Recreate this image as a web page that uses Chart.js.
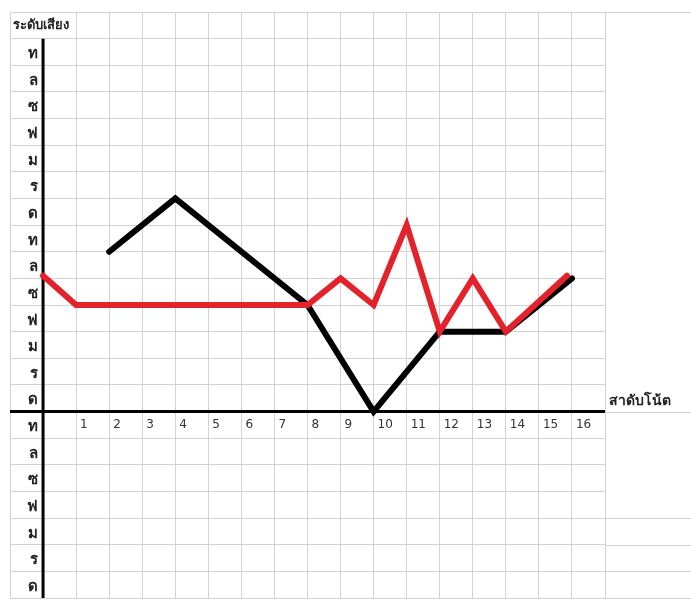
<!DOCTYPE html>
<html>
<head>
<meta charset="utf-8">
<script src="https://cdn.jsdelivr.net/npm/chart.js@4/dist/chart.umd.min.js"></script>
<style>
  html, body { margin: 0; background: #fff; }
  #wrap { width: 691px; height: 616px; }
</style>
</head>
<body>
<div id="wrap"><canvas id="myChart"></canvas></div>
<script>
// note names, one per grid row from y = -7 up to y = 13
const yTickLabels = ['ด','ร','ม','ฟ','ซ','ล','ท',
                     'ด','ร','ม','ฟ','ซ','ล','ท',
                     'ด','ร','ม','ฟ','ซ','ล','ท'];
const xTickLabels = ['1','2','3','4','5','6','7','8','9','10','11','12','13','14','15','16'];

// black line (vertices only)
const blackX = [2, 4, 8, 10, 12, 14, 16];
const blackY = [6, 8, 4, 0, 3, 3, 5];
// red line
const redX = [0, 1, 8, 9, 10, 11, 12, 13, 14, 15.85];
const redY = [5.1, 4, 4, 5, 4, 7, 3, 5, 3, 5.1];

const yTitle = 'ระดับเสียง';
const xTitle = 'สาดับโน้ต';

const FONT = "Tahoma, 'DejaVu Sans', 'Noto Sans', sans-serif";
const GRID = '#d3d3d3';

const toPoints = (xs, ys) => xs.map((x, i) => ({ x: x, y: ys[i] }));

// axis line, axis titles and the spreadsheet lines that run past the chart area
const sheetPlugin = {
  id: 'sheet',
  beforeDatasetsDraw(chart) {
    const { ctx, scales: { x, y } } = chart;
    ctx.save();
    ctx.strokeStyle = '#000';
    ctx.lineWidth = 3;
    ctx.beginPath();
    ctx.moveTo(x.getPixelForValue(0), y.getPixelForValue(14));
    ctx.lineTo(x.getPixelForValue(0), y.getPixelForValue(-7));
    ctx.stroke();
    ctx.restore();
  },
  afterDraw(chart) {
    const { ctx, chartArea, scales: { x, y } } = chart;
    ctx.save();
    ctx.strokeStyle = GRID;
    ctx.lineWidth = 1;
    [15, 0, -4, -5, -6, -7].forEach(v => {
      const py = Math.round(y.getPixelForValue(v)) + 0.5;
      ctx.beginPath();
      ctx.moveTo(chartArea.right, py);
      ctx.lineTo(chart.width, py);
      ctx.stroke();
    });
    ctx.fillStyle = '#222';
    ctx.font = 'bold 13px ' + FONT;
    ctx.textBaseline = 'middle';
    ctx.textAlign = 'left';
    ctx.fillText(yTitle, x.getPixelForValue(-1) + 3, y.getPixelForValue(14.5));
    ctx.font = 'bold 14px ' + FONT;
    ctx.fillText(xTitle, chartArea.right + 4, y.getPixelForValue(0.4));
    ctx.restore();
  }
};

new Chart(document.getElementById('myChart'), {
  type: 'line',
  data: {
    datasets: [{
      label: 'red',
      data: toPoints(redX, redY),
      borderColor: '#e3222b',
      borderWidth: 6,
      borderCapStyle: 'round',
      borderJoinStyle: 'miter',
      pointRadius: 0,
      tension: 0
    }, {
      label: 'black',
      data: toPoints(blackX, blackY),
      borderColor: '#000',
      borderWidth: 6,
      borderCapStyle: 'round',
      borderJoinStyle: 'miter',
      pointRadius: 0,
      tension: 0
    }]
  },
  options: {
    responsive: true,
    maintainAspectRatio: false,
    animation: false,
    layout: { padding: { left: 10, right: 86, top: 12, bottom: 18 } },
    plugins: { legend: { display: false }, tooltip: { enabled: false } },
    scales: {
      x: {
        type: 'linear',
        position: { y: 0 },
        min: -1,
        max: 17,
        border: { display: false },
        grid: {
          color: ctx => ctx.tick && ctx.tick.value === 0 ? 'rgba(0,0,0,0)' : GRID,
          lineWidth: 1,
          drawTicks: false
        },
        ticks: {
          stepSize: 1,
          autoSkip: false,
          maxRotation: 0,
          align: 'start',
          labelOffset: 4,
          padding: 6,
          color: '#333',
          font: { family: FONT, size: 12 },
          callback: v => (v >= 1 && v <= 16) ? xTickLabels[v - 1] : ''
        }
      },
      y: {
        type: 'linear',
        // labels sit just left of the axis line drawn at x = 0
        position: { x: -0.14 },
        min: -7,
        max: 15,
        border: { display: false },
        grid: {
          color: ctx => ctx.tick && ctx.tick.value === 0 ? '#000' : GRID,
          lineWidth: ctx => ctx.tick && ctx.tick.value === 0 ? 3 : 1,
          drawTicks: false
        },
        ticks: {
          stepSize: 1,
          autoSkip: false,
          labelOffset: -11,
          padding: 0,
          color: '#222',
          font: { family: FONT, size: 15, weight: 'bold' },
          callback: v => (v >= -7 && v <= 13) ? yTickLabels[v + 7] : ''
        }
      }
    }
  },
  plugins: [sheetPlugin]
});
</script>
</body>
</html>
